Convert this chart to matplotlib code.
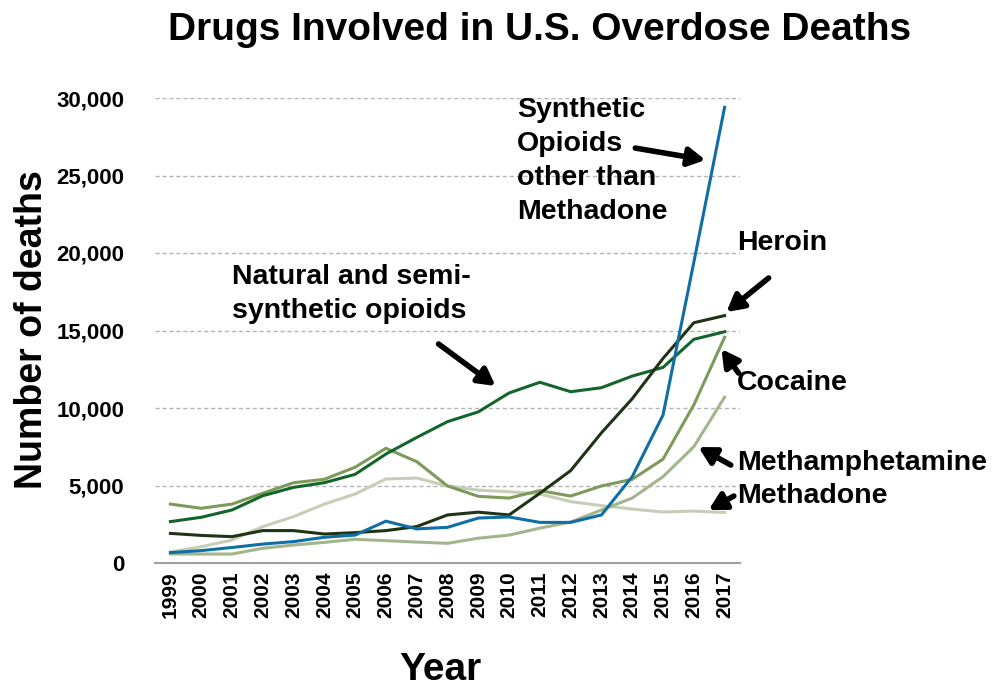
import matplotlib.pyplot as plt
from matplotlib.ticker import FuncFormatter

plt.rcParams["font.family"] = ["Liberation Sans", "DejaVu Sans"]

years = [str(y) for y in range(1999, 2018)]

synthetic = [670, 800, 1000, 1220, 1380, 1660, 1800, 2700, 2200, 2300,
             2900, 2970, 2620, 2620, 3100, 5570, 9550, 19400, 29400]
heroin = [1910, 1780, 1700, 2090, 2090, 1870, 1960, 2090, 2350, 3100,
          3280, 3100, 4500, 5960, 8400, 10600, 13200, 15500, 15960]
natural = [2670, 2950, 3420, 4340, 4880, 5180, 5720, 7030, 8100, 9120,
           9750, 10970, 11660, 11050, 11310, 12060, 12620, 14430, 14920]
cocaine = [3800, 3530, 3800, 4500, 5180, 5400, 6180, 7400, 6540, 4970,
           4300, 4190, 4670, 4320, 4970, 5400, 6700, 10200, 14560]
meth = [580, 580, 580, 950, 1160, 1330, 1530, 1440, 1350, 1270,
        1600, 1800, 2250, 2640, 3420, 4190, 5570, 7500, 10700]
methadone = [710, 1050, 1480, 2350, 2990, 3800, 4450, 5420, 5480, 4970,
             4700, 4600, 4450, 3960, 3700, 3480, 3290, 3350, 3260]

series = [
    (methadone, "#c6cfb6"),
    (meth, "#a3b58c"),
    (cocaine, "#7d9a5a"),
    (natural, "#13652b"),
    (heroin, "#1f3317"),
    (synthetic, "#0f6ea5"),
]

# label text, text position (figure px from top-left), arrow tail/head (year, deaths)
labels = [
    ("Synthetic\nOpioids\nother than\nMethadone", (517, 97), (2014.1, 26770), (2016.38, 26000)),
    ("Heroin", (737, 230), (2018.43, 18390), (2017.06, 16190)),
    ("Natural and semi-\nsynthetic opioids", (232, 264), (2007.71, 14130), (2009.56, 11420)),
    ("Cocaine", (737, 370), (2017.45, 12260), (2016.9, 13800)),
    ("Methamphetamine", (737, 450), (2017.2, 6320), (2016.15, 7480)),
    ("Methadone", (737, 483), (2017.3, 4320), (2016.48, 3420)),
]

W, H = 993, 689
fig = plt.figure(figsize=(W / 100, H / 100), dpi=100)
ax = fig.add_axes([155 / W, 1 - 563 / H, 585 / W, 465 / H])

x = list(range(len(years)))
for values, color in series:
    ax.plot(x, values, color=color, lw=2.2, solid_joinstyle="round")

ax.set_xlim(-0.5, len(years) - 0.5)
ax.set_ylim(0, 30000)
ax.set_yticks(range(0, 30001, 5000))
ax.yaxis.set_major_formatter(FuncFormatter(lambda v, _: "{:,}".format(int(v))))
ax.set_xticks(x)
ax.set_xticklabels(years, rotation=90)
ax.tick_params(axis="y", length=0, pad=22, labelsize=16)
ax.tick_params(axis="x", length=0, pad=6, labelsize=15)
for lab in ax.get_xticklabels() + ax.get_yticklabels():
    lab.set_fontweight("bold")

ax.grid(axis="y", color="#b5b5b5", ls=(0, (3, 2)), lw=1)
ax.set_axisbelow(True)
for side in ["left", "right", "top"]:
    ax.spines[side].set_visible(False)
ax.spines["bottom"].set_color("#a0a0a0")
ax.spines["bottom"].set_linewidth(1.5)

fig.text(32 / W, 1 - 330 / H, "Number of deaths", rotation=90, fontsize=27,
         fontweight="bold", ha="center", va="center")
fig.text(440 / W, 1 - 670 / H, "Year", fontsize=28, fontweight="bold",
         ha="center", va="center")
fig.text(540 / W, 1 - 30 / H, "Drugs Involved in U.S. Overdose Deaths",
         family=["Liberation Sans Narrow", "Liberation Sans", "DejaVu Sans"],
         fontsize=28, fontweight="bold", ha="center", va="center")


def xpos(year):
    return year - 1999


for text, (tx, ty), tail, head in labels:
    fig.text(tx / W, 1 - ty / H, text, fontsize=20.5, fontweight="bold",
             ha="left", va="top", linespacing=1.4)
    ax.annotate("", xy=(xpos(head[0]), head[1]), xytext=(xpos(tail[0]), tail[1]),
                annotation_clip=False,
                arrowprops=dict(arrowstyle="-|>,head_width=0.55,head_length=1.0",
                                lw=4, color="black", shrinkA=0, shrinkB=0))

fig.savefig("out.png", dpi=100)
